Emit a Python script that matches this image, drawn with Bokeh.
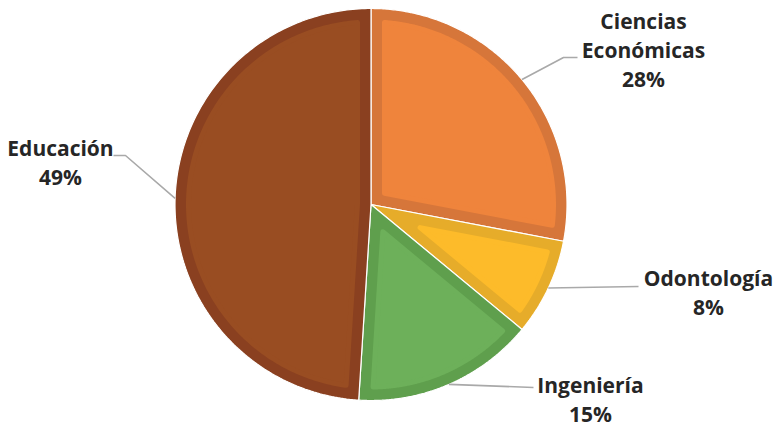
import numpy as np
from bokeh.plotting import figure
from bokeh.models import Range1d
from bokeh.core.properties import value
from bokeh.embed import file_html
from bokeh.resources import INLINE

# ---- data ----
categories = ["Ciencias Económicas", "Odontología", "Ingeniería", "Educación"]
label_lines = [["Ciencias", "Económicas"], ["Odontología"], ["Ingeniería"], ["Educación"]]
values = [28, 8, 15, 49]
fill_colors = ["#EF843C", "#FDBB2A", "#6DB05A", "#994D22"]
border_colors = ["#D6763A", "#E6AC2A", "#5F9F4D", "#8A4020"]

# ---- layout (pixel-space coordinates) ----
W, H = 775, 426
CX, CY, R = 370.5, 204.0, 196.0
INSET = 11.0
ROUND = 2.5
label_x = [643, 708, 590, 60]
label_center = [20, 277, 384, 147]
line_gap = 29
elbows = [[(563, 57), (577, 57)], [(638, 286)], [(533, 387)], [(125, 155), (113, 155)]]

p = figure(width=W, height=H, x_range=Range1d(0, W), y_range=Range1d(H, 0),
           output_backend="svg", toolbar_location=None, min_border=0)
p.axis.visible = False
p.grid.visible = False
p.outline_line_color = None


def pt(a, r):
    return CX + r * np.sin(a), CY - r * np.cos(a)


total = float(sum(values))
cum = np.concatenate([[0], np.cumsum(values)]) / total * 2 * np.pi

for i, v in enumerate(values):
    a0, a1 = cum[i], cum[i + 1]
    t = np.linspace(a0, a1, 200)
    ox, oy = pt(t, R)
    xs = np.concatenate([[CX], ox])
    ys = np.concatenate([[CY], oy])
    p.patch(xs, ys, fill_color=border_colors[i], line_color="white", line_width=1.2)
    # inner inset shape
    d = INSET + ROUND
    r = R - d
    phi = a1 - a0
    dl = np.arcsin(d / r)
    ti = np.linspace(a0 + dl, a1 - dl, 200)
    ix, iy = pt(ti, r)
    ax, ay = pt((a0 + a1) / 2, d / np.sin(phi / 2))
    p.patch(np.concatenate([[ax], ix]), np.concatenate([[ay], iy]),
            fill_color=fill_colors[i], line_color=fill_colors[i],
            line_width=2 * ROUND, line_join="round")

    # leader line
    sx, sy = pt((a0 + a1) / 2, R)
    lx = [sx] + [e[0] for e in elbows[i]]
    ly = [sy] + [e[1] for e in elbows[i]]
    p.line(lx, ly, line_color="#A9A9A9", line_width=1.6)

    # labels
    lines = label_lines[i] + [f"{v}%"]
    for k, s in enumerate(lines):
        p.text(x=[label_x[i]], y=[label_center[i] + k * line_gap], text=[s],
               text_font=value("Open Sans"), text_font_style="bold",
               text_font_size="21px", text_color="#262626",
               text_align="center", text_baseline="middle")

open("out.html", "w").write(file_html(p, INLINE))
